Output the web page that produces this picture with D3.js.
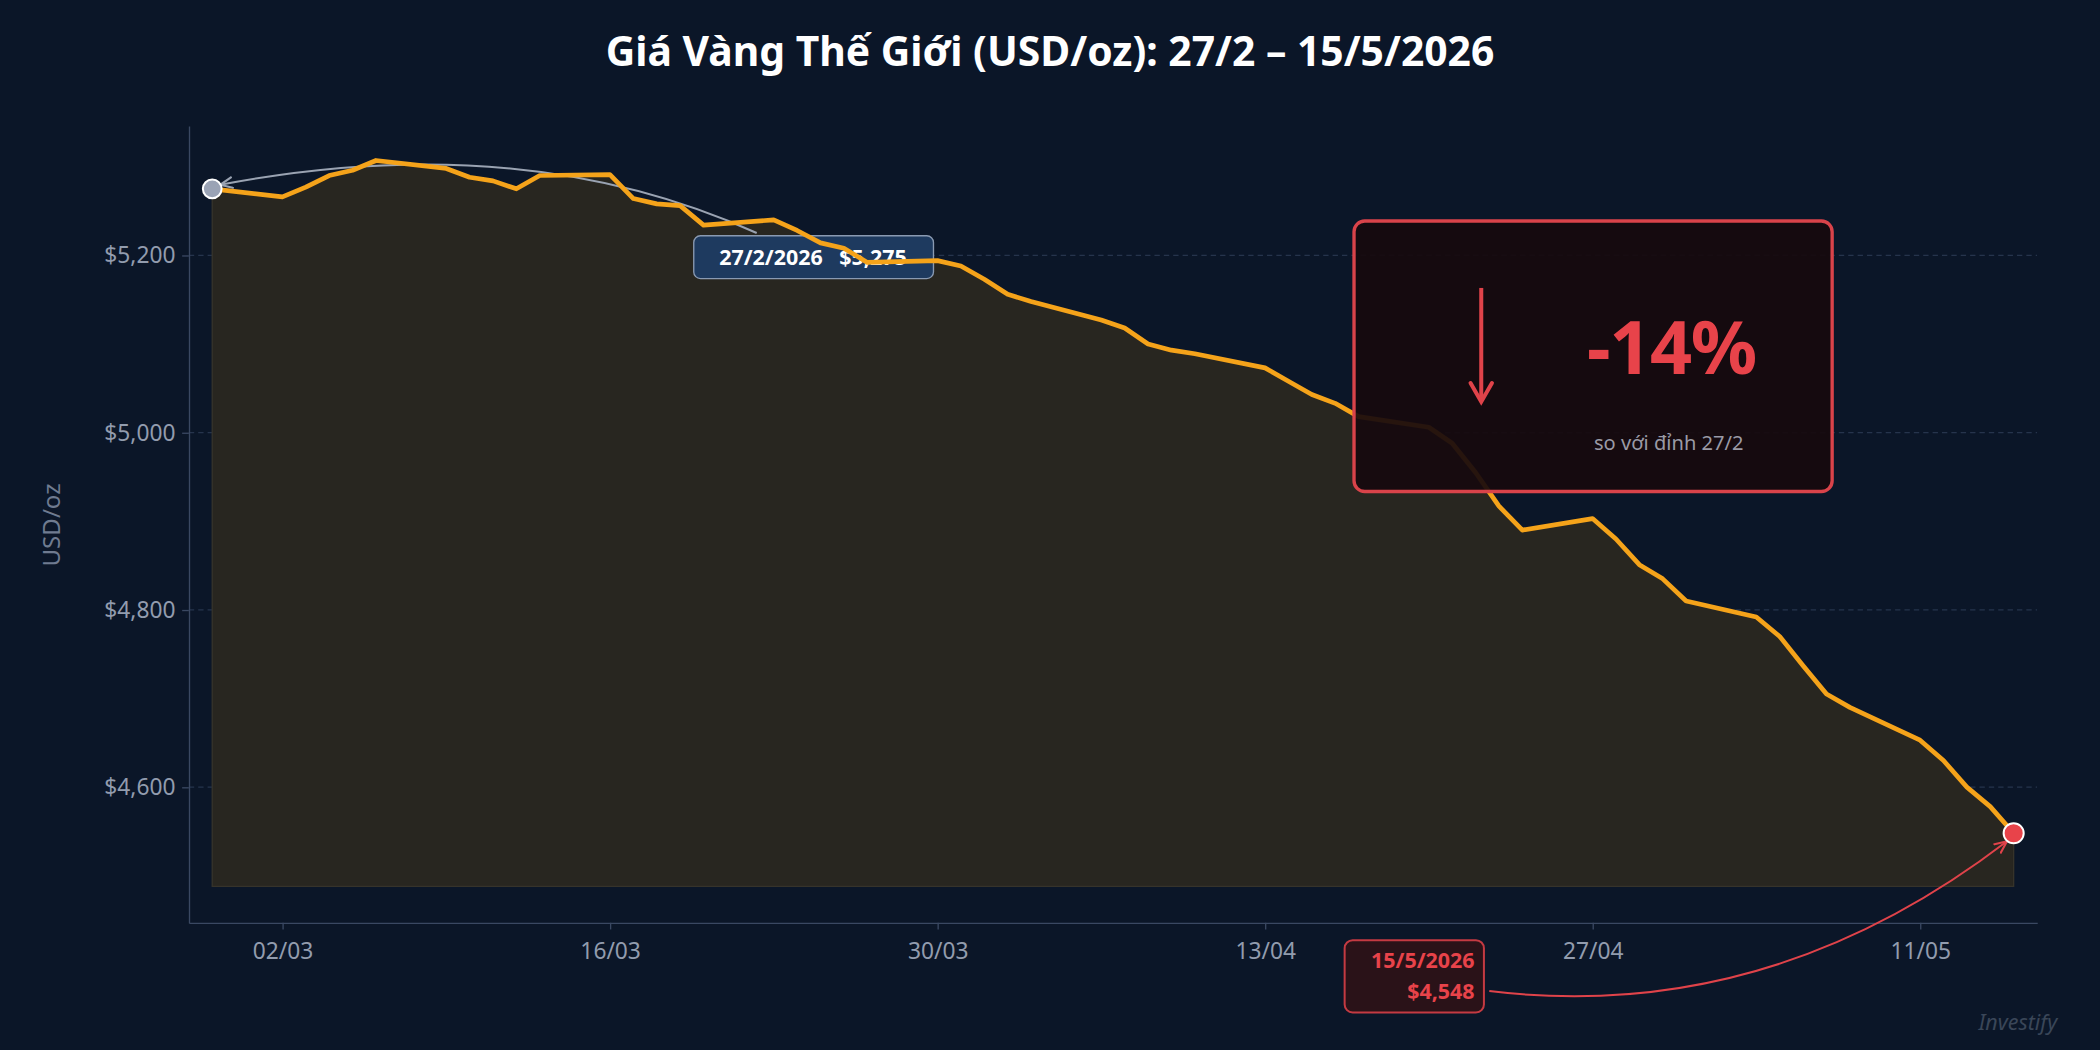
<!DOCTYPE html>
<html><head><meta charset="utf-8">
<script src="https://cdn.jsdelivr.net/npm/d3@7"></script>
<style>body{margin:0;background:#0b1628;}svg{display:block;font-family:"Noto Sans",sans-serif;}</style>
</head><body><svg id="c" width="2100" height="1050" viewBox="0 0 1568 784"></svg>
<script>
const dates = ["2026-02-27","2026-03-02","2026-03-03","2026-03-04","2026-03-05","2026-03-06","2026-03-09","2026-03-10","2026-03-11","2026-03-12","2026-03-13","2026-03-16","2026-03-17","2026-03-18","2026-03-19","2026-03-20","2026-03-23","2026-03-24","2026-03-25","2026-03-26","2026-03-27","2026-03-30","2026-03-31","2026-04-01","2026-04-02","2026-04-03","2026-04-06","2026-04-07","2026-04-08","2026-04-09","2026-04-10","2026-04-13","2026-04-14","2026-04-15","2026-04-16","2026-04-17","2026-04-20","2026-04-21","2026-04-22","2026-04-23","2026-04-24","2026-04-27","2026-04-28","2026-04-29","2026-04-30","2026-05-01","2026-05-04","2026-05-05","2026-05-06","2026-05-07","2026-05-08","2026-05-11","2026-05-12","2026-05-13","2026-05-14","2026-05-15"];
const prices = [5275,5266,5277,5290,5296,5307,5298,5288,5284,5275,5290,5291,5264,5258,5256,5234,5240,5228,5214,5208,5192,5194,5188,5173,5156,5148,5127,5118,5100,5093,5089,5073,5058,5043,5033,5018,5006,4988,4955,4917,4890,4903,4880,4851,4835,4810,4792,4770,4737,4705,4690,4653,4630,4600,4578,4548];
const yTicks = [4600,4800,5000,5200];
const xTicks = ["2026-03-02","2026-03-16","2026-03-30","2026-04-13","2026-04-27","2026-05-11"];
const title = "Giá Vàng Thế Giới (USD/oz): 27/2 – 15/5/2026";

const P = d3.timeParse("%Y-%m-%d");
const data = dates.map((d,i)=>({d:P(d),v:prices[i]}));
const svg = d3.select("#c");
const L=141,R=1521,T=94,B=689;
const x = d3.scaleTime().domain([P("2026-02-26"),P("2026-05-16")]).range([L,R]);
const y = d3.scaleLinear().domain([4447,5346]).range([B,T]);

svg.append("rect").attr("width",1568).attr("height",784).attr("fill","#0b1628");
svg.append("text").attr("x",784).attr("y",49).attr("text-anchor","middle").attr("fill","#fff")
  .attr("font-size",30.5).attr("font-weight","bold").text(title);

svg.append("g").selectAll("line").data(yTicks).join("line")
  .attr("x1",L).attr("x2",R).attr("y1",d=>y(d)).attr("y2",d=>y(d))
  .attr("stroke","#26344c").attr("stroke-dasharray","4,3").attr("stroke-width",1);

const base = 4488;
svg.append("path").datum(data).attr("fill","#282620").attr("stroke","#36332a").attr("stroke-width",1)
  .attr("d",d3.area().x(d=>x(d.d)).y0(y(base)).y1(d=>y(d.v)));

const ax = svg.append("g").attr("transform",`translate(0,${B})`)
  .call(d3.axisBottom(x).tickValues(xTicks.map(P)).tickFormat(d3.timeFormat("%d/%m")).tickSize(5).tickSizeOuter(0));
const ay = svg.append("g").attr("transform",`translate(${L},0)`)
  .call(d3.axisLeft(y).tickValues(yTicks).tickFormat(d=>"$"+d3.format(",")(d)).tickSize(5).tickSizeOuter(0));
[ax,ay].forEach(a=>{a.select(".domain").attr("stroke","#3a4862");a.selectAll(".tick line").attr("stroke","#3a4862");
  a.selectAll("text").attr("fill","#929cae").attr("font-size",17).attr("font-family","Noto Sans");});
ax.selectAll("text").attr("dy","1.1em");
ay.selectAll("text").attr("dx","-2");
svg.append("text").attr("transform","translate(45,392) rotate(-90)").attr("text-anchor","middle")
  .attr("fill","#6f7b90").attr("font-size",18).text("USD/oz");

const s = data[0], e = data[data.length-1];
svg.append("defs").html(`<marker id="ag" viewBox="0 0 10 10" refX="9" refY="5" markerWidth="7" markerHeight="7" orient="auto"><path d="M0,1 L9,5 L0,9" fill="none" stroke="#9aa3b2" stroke-width="1.5"/></marker>
<marker id="ar" viewBox="0 0 10 10" refX="9" refY="5" markerWidth="7" markerHeight="7" orient="auto"><path d="M0,1 L9,5 L0,9" fill="none" stroke="#e0434a" stroke-width="1.5"/></marker>`);
svg.append("path").attr("d",`M565,174 Q390,95 ${x(s.d)+6},${y(s.v)-3}`).attr("fill","none")
  .attr("stroke","#9aa3b2").attr("stroke-width",1.5).attr("marker-end","url(#ag)");

// start label (under line)
svg.append("rect").attr("x",518).attr("y",176).attr("width",179).attr("height",32).attr("rx",5)
  .attr("fill","#1e3a5f").attr("stroke","#8a9ab2").attr("stroke-width",1);
svg.append("text").attr("x",607).attr("y",198).attr("text-anchor","middle").attr("fill","#fff")
  .attr("font-size",16).attr("font-weight","bold").attr("xml:space","preserve").text("27/2/2026   $5,275");

svg.append("path").datum(data).attr("fill","none").attr("stroke","#f5a31a").attr("stroke-width",3.5)
  .attr("stroke-linejoin","round").attr("d",d3.line().x(d=>x(d.d)).y(d=>y(d.v)));

svg.append("circle").attr("cx",x(s.d)).attr("cy",y(s.v)).attr("r",7).attr("fill","#9aa3b5").attr("stroke","#fff").attr("stroke-width",1.5);

svg.append("rect").attr("x",1011).attr("y",165).attr("width",357).attr("height",202).attr("rx",8)
  .attr("fill","#170a0e").attr("fill-opacity",0.93).attr("stroke","#d9434a").attr("stroke-width",2.5);
svg.append("line").attr("x1",1106).attr("x2",1106).attr("y1",215).attr("y2",298).attr("stroke","#e0434a").attr("stroke-width",3);
svg.append("path").attr("d","M1098,286 L1106,300 L1114,286").attr("fill","none").attr("stroke","#e0434a").attr("stroke-width",3).attr("stroke-linecap","round");
svg.append("text").attr("x",1248).attr("y",279).attr("text-anchor","middle").attr("fill","#e8434a")
  .attr("font-size",55).attr("font-weight","bold").attr("letter-spacing","-1").text("-14%");
svg.append("text").attr("x",1246).attr("y",336).attr("text-anchor","middle").attr("fill","#9a9aa6")
  .attr("font-size",15).text("so với đỉnh 27/2");

svg.append("path").attr("d",`M1112,740 Q1320,765 ${x(e.d)-5},${y(e.v)+6}`).attr("fill","none")
  .attr("stroke","#e0434a").attr("stroke-width",1.5).attr("marker-end","url(#ar)");
svg.append("circle").attr("cx",x(e.d)).attr("cy",y(e.v)).attr("r",7.5).attr("fill","#e8434a").attr("stroke","#fff").attr("stroke-width",1.5);
svg.append("rect").attr("x",1004).attr("y",702).attr("width",104).attr("height",54).attr("rx",6)
  .attr("fill","#2a1218").attr("stroke","#c43a42").attr("stroke-width",1.5);
svg.append("text").attr("x",1101).attr("y",723).attr("text-anchor","end").attr("fill","#e8434a").attr("font-size",16).attr("font-weight","bold").text("15/5/2026");
svg.append("text").attr("x",1101).attr("y",746).attr("text-anchor","end").attr("fill","#e8434a").attr("font-size",16).attr("font-weight","bold").text("$4,548");

svg.append("text").attr("x",1536).attr("y",769).attr("text-anchor","end").attr("fill","#3a4658")
  .attr("font-size",16).attr("font-style","italic").text("Investify");
</script></body></html>
